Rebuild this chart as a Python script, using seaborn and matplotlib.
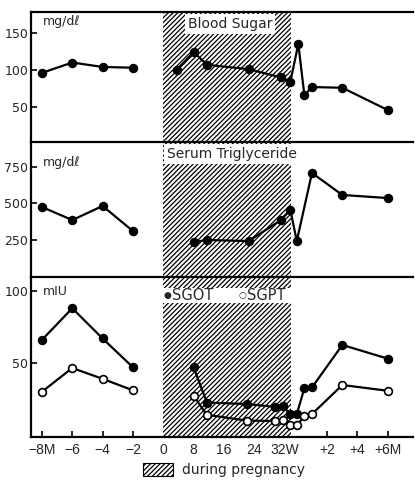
import numpy as np
import pandas as pd
import matplotlib
matplotlib.use("Agg")
import matplotlib.pyplot as plt
import seaborn as sns
from matplotlib.patches import Patch, Rectangle

# ---------------- data ----------------
pre_months = [-8, -6, -4, -2]

sugar_preg_weeks = [3.5, 8, 11.5, 22.5, 31, 33.5]
sugar_post_months = [0.1, 0.5, 1, 3, 6]
sugar_pre = [96, 110, 104, 103]
sugar_preg = [100, 124, 107, 101, 90, 84]
sugar_post = [135, 66, 77, 76, 46]

tg_preg_weeks = [8, 11.5, 22.5, 31, 33.5]
tg_post_months = [0, 1, 3, 6]
tg_pre = [475, 386, 482, 311]
tg_preg = [236, 250, 243, 386, 455]
tg_post = [243, 707, 557, 536]

enz_preg_weeks = [8, 11.5, 22, 29.5, 31.5, 33.5]
enz_post_months = [0, 0.5, 1, 3, 6]
sgot_pre = [66, 88, 67, 47]
sgot_preg = [47, 22.5, 21.5, 19.5, 20, 14.5]
sgot_post = [14.5, 32.5, 33, 62.5, 53]
sgpt_pre = [30, 46.5, 39, 31]
sgpt_preg = [27, 14, 10, 9.7, 10.5, 7]
sgpt_post = [6.8, 13, 14.5, 34.7, 30.7]

tick_pre_months = [-8, -6, -4, -2]
tick_weeks = [0, 8, 16, 24, 32]
tick_post_months = [2, 4, 6]
x_tick_labels = ["\u22128M", "\u22126", "\u22124", "\u22122", "0", "8", "16", "24",
                 "32W", "+2", "+4", "+6M"]
pregnancy_weeks = 33.8

# timeline mapping (pre months / pregnancy weeks / postpartum months)
def t_pre(m):
    return np.asarray(m, float)

def t_week(w):
    return np.asarray(w, float) / 4.0

def t_post(m):
    return 8.8 + np.asarray(m, float)


def make_df(pre, weeks, post_m, v_pre, v_preg, v_post):
    x = np.concatenate([t_pre(pre), t_week(weeks), t_post(post_m)])
    y = np.concatenate([v_pre, v_preg, v_post])
    seg = ["pre"] * len(v_pre) + ["preg"] * (len(v_preg) + len(v_post))
    return pd.DataFrame({"pos": x, "value": y, "segment": seg})


sns.set_theme(style="white")
plt.rcParams["font.family"] = ["DejaVu Sans"]
plt.rcParams["hatch.linewidth"] = 0.9

HATCH = "///////"

fig = plt.figure(figsize=(4.15, 4.83), dpi=100)
L, R = 31 / 415, 413 / 415
def band(top_px, bot_px):
    return [L, 1 - bot_px / 483, R - L, (bot_px - top_px) / 483]

ax1 = fig.add_axes(band(12, 142))
ax2 = fig.add_axes(band(142, 277))
ax3 = fig.add_axes(band(277, 437))
axes = [ax1, ax2, ax3]

xlim = (-8.72, 16.46)
tick_pos = np.concatenate([t_pre(tick_pre_months), t_week(tick_weeks), t_post(tick_post_months)])
preg_end = float(t_week(pregnancy_weeks))

line_kw = dict(color="black", linewidth=1.6, marker="o", markersize=5.6,
               markeredgecolor="black", markeredgewidth=1.2, zorder=4,
               estimator=None, units="segment", sort=True, legend=False)

# Blood sugar
df = make_df(pre_months, sugar_preg_weeks, sugar_post_months, sugar_pre, sugar_preg, sugar_post)
sns.lineplot(data=df, x="pos", y="value", ax=ax1, markerfacecolor="black", **line_kw)
ax1.set_ylim(3, 178)
ax1.set_yticks([50, 100, 150])
ax1.text(0.03, 0.93, "mg/d\u2113", transform=ax1.transAxes, fontsize=9, va="center", ha="left")
ax1.text(4.4, 162, "Blood Sugar", fontsize=10, ha="center", va="center", zorder=5,
         bbox=dict(facecolor="white", edgecolor="none", pad=2))

# Triglyceride
df = make_df(pre_months, tg_preg_weeks, tg_post_months, tg_pre, tg_preg, tg_post)
sns.lineplot(data=df, x="pos", y="value", ax=ax2, markerfacecolor="black", **line_kw)
ax2.set_ylim(-2, 918)
ax2.set_yticks([250, 500, 750])
ax2.text(0.03, 0.85, "mg/d\u2113", transform=ax2.transAxes, fontsize=9, va="center", ha="left")
ax2.text(4.5, 835, "Serum Triglyceride", fontsize=10, ha="center", va="center", zorder=5,
         bbox=dict(facecolor="white", edgecolor="none", pad=2))

# SGOT / SGPT
df = make_df(pre_months, enz_preg_weeks, enz_post_months, sgot_pre, sgot_preg, sgot_post)
sns.lineplot(data=df, x="pos", y="value", ax=ax3, markerfacecolor="black", **line_kw)
df = make_df(pre_months, enz_preg_weeks, enz_post_months, sgpt_pre, sgpt_preg, sgpt_post)
sns.lineplot(data=df, x="pos", y="value", ax=ax3, markerfacecolor="white", **line_kw)
ax3.set_ylim(-1.4, 109.7)
ax3.set_yticks([50, 100])
ax3.text(0.03, 0.91, "mIU", transform=ax3.transAxes, fontsize=9, va="center", ha="left")
xt = ax3.get_xaxis_transform()
ax3.add_patch(Rectangle((0, 0.8375), preg_end, 0.0935, transform=xt,
                        facecolor="white", edgecolor="none", zorder=3))
ax3.text(0.3, 0.885, "\u25cf", transform=xt, fontsize=6.5, ha="center", va="center", zorder=5)
ax3.text(0.6, 0.885, "SGOT", transform=xt, fontsize=10.5, ha="left", va="center", zorder=5)
ax3.text(5.25, 0.885, "\u25cb", transform=xt, fontsize=6.5, ha="center", va="center", zorder=5)
ax3.text(5.55, 0.885, "SGPT", transform=xt, fontsize=10.5, ha="left", va="center", zorder=5)

for ax in axes:
    ax.set_xlim(*xlim)
    ax.axvspan(0, preg_end, facecolor="white", edgecolor="black", hatch=HATCH,
               linewidth=0, zorder=1)
    for s in ["right", "bottom"]:
        ax.spines[s].set_visible(False)
    for s in ["left", "top"]:
        ax.spines[s].set_color("black")
        ax.spines[s].set_linewidth(1.6)
    ax.tick_params(axis="y", direction="in", length=4, width=1.2, color="black",
                   labelsize=9, pad=2, left=True)
    ax.set_xlabel("")
    ax.set_ylabel("")
    ax.grid(False)

ax3.spines["bottom"].set_visible(True)
ax3.spines["bottom"].set_color("black")
ax3.spines["bottom"].set_linewidth(1.6)
ax3.set_xticks(tick_pos)
ax3.set_xticklabels(x_tick_labels, fontsize=10,
                    family=["Liberation Sans Narrow", "Liberation Sans", "DejaVu Sans"])
ax3.tick_params(axis="x", direction="in", length=4, width=1.2, color="black", pad=4, bottom=True)
for tick, p in zip(ax3.xaxis.get_major_ticks(), tick_pos):
    if 0 <= p <= preg_end:
        tick.tick1line.set_visible(False)
for ax in [ax1, ax2]:
    ax.set_xticks([])

handle = Patch(facecolor="white", edgecolor="black", hatch=HATCH, linewidth=0.8,
               label="during pregnancy")
fig.legend(handles=[handle], loc="center", bbox_to_anchor=(0.54, 0.027), frameon=False,
           fontsize=10, handlelength=2.2, handleheight=1.15, handletextpad=0.65,
           borderpad=0, borderaxespad=0)

fig.savefig("out.png", dpi=100)
